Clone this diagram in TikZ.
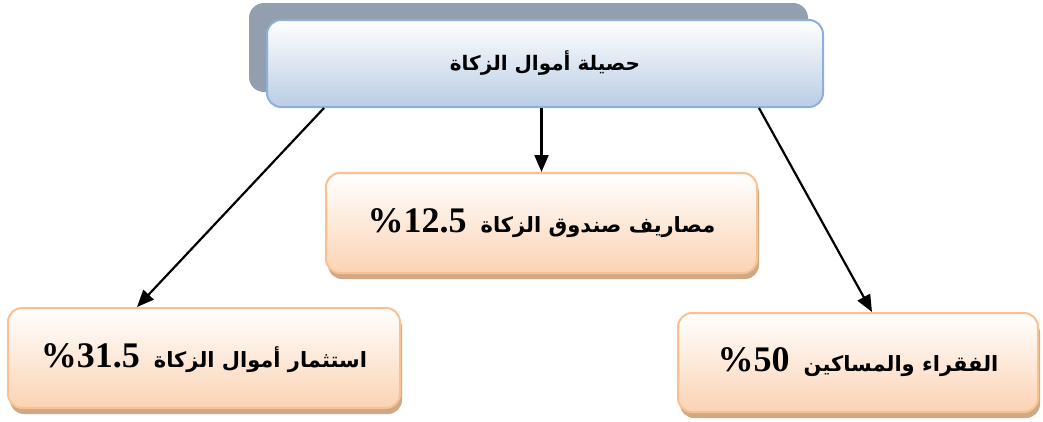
\documentclass[tikz,border=0pt]{standalone}
\usepackage{fontspec}
\usetikzlibrary{arrows.meta,shadows,calc}
\TeXXeTstate=1
\newfontfamily\arabicfont[Script=Arabic]{DejaVu Sans}
\newfontfamily\numfont{Liberation Serif}
\definecolor{grayback}{HTML}{939FAE}
\definecolor{blueline}{HTML}{8EB0D8}
\definecolor{bluebot}{HTML}{B9CDE5}
\definecolor{orangeline}{HTML}{FAC08F}
\definecolor{orangebot}{HTML}{FBD3B3}
\definecolor{shadowc}{HTML}{CFA886}
\newcommand{\ar}{\arabicfont\bfseries\fontsize{20}{24}\selectfont}
\newcommand{\arl}{\arabicfont\bfseries\fontsize{21}{25}\selectfont}
\newcommand{\nm}{\numfont\bfseries\fontsize{36}{40}\selectfont}
\begin{document}
\begin{tikzpicture}[x=1pt,y=-1pt,
  topbox/.style={draw=blueline, line width=2pt, rounded corners=14pt,
    top color=white, bottom color=bluebot, inner sep=0pt},
  leafbox/.style={draw=orangeline, line width=2pt, rounded corners=14pt,
    top color=white, bottom color=orangebot, inner sep=0pt,
    drop shadow={shadow xshift=2pt, shadow yshift=-6pt, opacity=1, fill=shadowc}},
  conn/.style={line width=2.2pt, -{Triangle[length=17pt,width=14pt]}}]
\useasboundingbox (0,0) rectangle (1043,421);
\fill[grayback, rounded corners=15pt] (249,3) rectangle (808,92);
\node[topbox, minimum width=556pt, minimum height=87pt] (top) at (545,63.5)
  {\ar\beginR حصيلة أموال الزكاة\endR};
\node[leafbox, minimum width=431pt, minimum height=100pt] (mid) at (541.5,223)
  {\arl\beginR مصاريف صندوق الزكاة\hspace{14pt}{\nm\beginL12.5\endL\%}\endR};
\node[leafbox, minimum width=392pt, minimum height=100pt] (left) at (204,358)
  {\arl\beginR استثمار أموال الزكاة\hspace{14pt}{\nm\beginL31.5\endL\%}\endR};
\node[leafbox, minimum width=360pt, minimum height=99pt] (right) at (858,362.5)
  {\arl\beginR الفقراء والمساكين\hspace{14pt}{\nm\beginL50\endL\%}\endR};
\draw[conn] ($(top.south west)+(58,0)$) -- ($(left.north west)+(130,0)$);
\draw[conn] (mid.north |- top.south) -- (mid.north);
\draw[conn] ($(top.south east)+(-65,0)$) -- ($(right.north west)+(195,0)$);
\end{tikzpicture}
\end{document}
